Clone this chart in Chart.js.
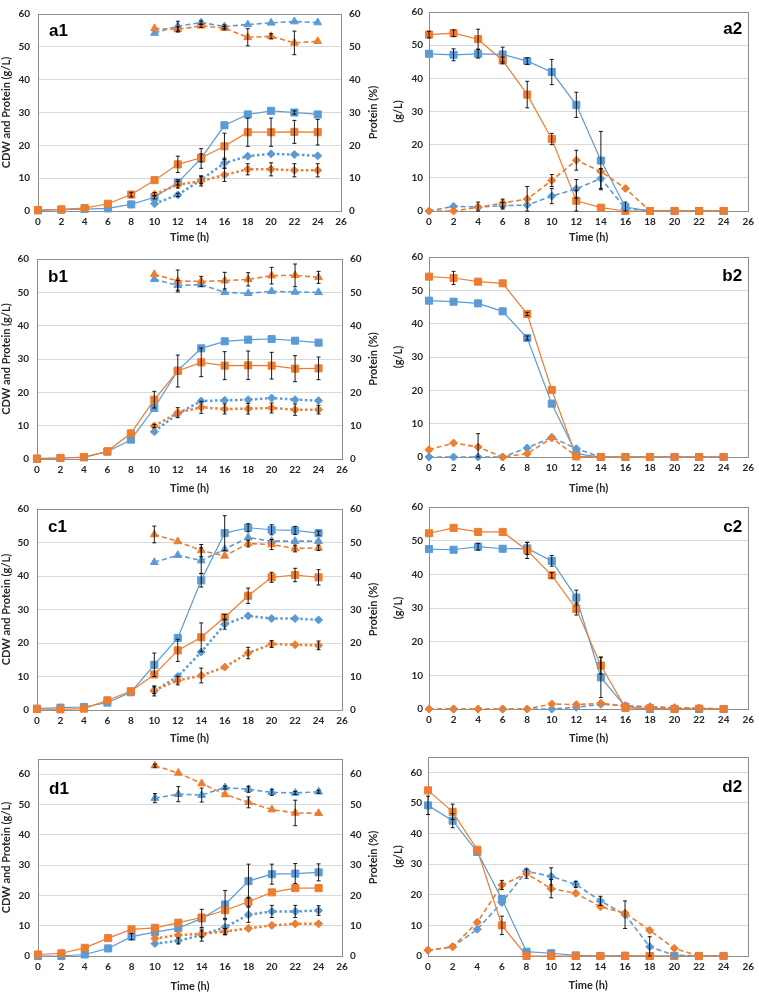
<!DOCTYPE html>
<html><head><meta charset="utf-8">
<script src="https://cdn.jsdelivr.net/npm/chart.js@4"></script>
<style>
html,body{margin:0;padding:0;background:#fff;}
body{width:759px;height:993px;position:relative;overflow:hidden;}
canvas{position:absolute;}
</style></head><body>
<canvas id="a1" width="380" height="245" style="left:0;top:0"></canvas>
<canvas id="a2" width="379" height="245" style="left:380px;top:0"></canvas>
<canvas id="b1" width="380" height="250" style="left:0;top:245px"></canvas>
<canvas id="b2" width="379" height="250" style="left:380px;top:245px"></canvas>
<canvas id="c1" width="380" height="250" style="left:0;top:495px"></canvas>
<canvas id="c2" width="379" height="250" style="left:380px;top:495px"></canvas>
<canvas id="d1" width="380" height="248" style="left:0;top:745px"></canvas>
<canvas id="d2" width="379" height="248" style="left:380px;top:745px"></canvas>
<script>
// ---------- axes / categories ----------
const times = [0,2,4,6,8,10,12,14,16,18,20,22,24];
const lateTimes = [10,12,14,16,18,20,22,24];
const xTickValues = [0,2,4,6,8,10,12,14,16,18,20,22,24,26];
const yTickValues = [0,10,20,30,40,50,60];

// ---------- a1 ----------
const a1_cdw_blue = [0.2,0.4,0.6,0.8,2.0,4.2,8.7,16.0,26.1,29.4,30.5,30.0,29.4];
const a1_cdw_orange = [0.3,0.5,0.9,2.2,5.0,9.4,14.2,16.2,19.7,24.0,24.0,24.1,24.0];
const a1_prot_blue = [2.2,4.9,9.5,14.6,16.7,17.4,17.2,16.8];
const a1_prot_orange = [5.1,8.0,9.1,11.0,12.7,12.7,12.4,12.4];
const a1_pct_blue = [54.2,56.3,57.4,56.2,56.8,57.3,57.7,57.4];
const a1_pct_orange = [55.6,55.3,56.4,55.7,52.9,53.2,51.2,51.7];
const a1_cdw_blue_err = [0,0,0,0,0,0.5,0.8,3,0,0,0,0.5,0];
const a1_cdw_orange_err = [0,0,0,0,0.7,0,2.5,1.2,4,4.3,4.3,3.5,3.9];
const a1_prot_blue_err = [0,0.5,1.2,1.5,0,0,0,0];
const a1_prot_orange_err = [0.5,1,1.5,2,1.7,2,2,2];
const a1_pct_blue_err = [0,1.5,0.5,0.5,0,0,0,0];
const a1_pct_orange_err = [0,0.8,0.5,0.5,2.6,0.8,3.6,0];

// ---------- a2 ----------
const a2_sq_blue = [47.4,47.1,47.4,47.2,45.2,41.9,32.0,15.2,1.2,0,0,0,0];
const a2_sq_orange = [53.2,53.6,51.8,45.4,35.1,21.7,3.1,1.0,0,0,0,0,0];
const a2_dm_blue = [0,1.4,1.2,1.6,1.8,4.5,6.7,9.8,0.8,0,0,0,0];
const a2_dm_orange = [0,0,1.1,2.4,3.6,9.2,15.3,11.9,6.8,0,0,0,0];
const a2_sq_blue_err = [0,1.8,1.3,2.2,1,3.8,3.8,8.8,1.5,0,0,0,0];
const a2_sq_orange_err = [1,1,3,1,4,1.7,3.1,0,0,0,0,0,0];
const a2_dm_blue_err = [0,0,1.5,1,0,2.3,2.8,3,0,0,0,0,0];
const a2_dm_orange_err = [0,0,0,1.2,3.8,1.8,3,0,0,0,0,0,0];

// ---------- b1 ----------
const b1_cdw_blue = [0.1,0.3,0.5,2.2,5.8,15.3,26.5,33.2,35.3,35.8,36.0,35.5,34.9];
const b1_cdw_orange = [0.1,0.3,0.6,2.3,7.7,17.8,26.4,29.0,28.0,28.1,28.0,27.1,27.2];
const b1_prot_blue = [8.2,13.6,17.4,17.6,17.8,18.3,17.8,17.5];
const b1_prot_orange = [9.9,13.9,15.5,15.0,15.1,15.3,14.8,14.8];
const b1_pct_blue = [53.9,52.1,52.3,50.0,49.7,50.3,50.1,50.0];
const b1_pct_orange = [55.4,53.4,53.3,53.5,53.9,55.0,55.1,54.5];
const b1_cdw_blue_err = [0,0,0,0,0,0,0,0,0,0,0,0,0];
const b1_cdw_orange_err = [0,0,0,0,0,2.5,4.8,4.3,4.2,4.3,4,3.9,3.4];
const b1_prot_blue_err = [0,0,0,0,0,0,0,0];
const b1_prot_orange_err = [0.5,1.5,1.8,1.5,1.6,1.5,1.7,1.3];
const b1_pct_blue_err = [0,1.5,0,0,0,0,0,0];
const b1_pct_orange_err = [0,3.3,1.5,2.5,2,2.5,3.4,1.8];

// ---------- b2 ----------
const b2_sq_blue = [46.9,46.6,46.1,43.7,35.7,16.0,1.0,0,0,0,0,0,0];
const b2_sq_orange = [54.1,53.7,52.6,52.1,42.9,20.1,0.2,0,0,0,0,0,0];
const b2_dm_blue = [0,0,0,0,2.7,5.9,2.5,0,0,0,0,0,0];
const b2_dm_orange = [2.2,4.2,3.0,0,1.0,5.7,0.2,0,0,0,0,0,0];
const b2_sq_blue_err = [0,0,0,0,0.6,0,0,0,0,0,0,0,0];
const b2_sq_orange_err = [0,2,0,0,0.5,0,0,0,0,0,0,0,0];
const b2_dm_blue_err = [0,0,0,0,0,0,0,0,0,0,0,0,0];
const b2_dm_orange_err = [0,0,4,0,0,0,0,0,0,0,0,0,0];

// ---------- c1 ----------
const c1_cdw_blue = [0.4,0.7,0.9,2.2,5.3,13.5,21.5,38.7,52.8,54.4,53.8,53.6,52.8];
const c1_cdw_orange = [0.3,0.2,0.4,2.9,5.6,10.6,17.8,21.7,27.7,34.1,39.6,40.3,39.6];
const c1_prot_blue = [5.7,10.0,17.3,25.6,28.1,27.3,27.3,26.9];
const c1_prot_orange = [5.9,8.8,10.3,12.8,17.0,19.7,19.5,19.3];
const c1_pct_blue = [44.1,46.2,44.6,48.0,51.5,50.4,50.4,50.4];
const c1_pct_orange = [52.4,50.3,47.6,46.0,49.7,49.4,48.2,48.4];
const c1_cdw_blue_err = [0,0,0,0,0,3.5,0,2,5.2,1.2,1.5,1.2,0.6];
const c1_cdw_orange_err = [0,0,0,0,0,0,3.3,4.3,0.8,2.3,1.5,2,2.3];
const c1_prot_blue_err = [1.5,0,0,1.5,0,0,0,0];
const c1_prot_orange_err = [1,1.3,2.2,0,1.7,1,0,1.3];
const c1_pct_blue_err = [0,0,3.8,0,0,0,0,0];
const c1_pct_orange_err = [2.5,0,1.8,0,1,1.5,1,0.8];

// ---------- c2 ----------
const c2_sq_blue = [47.5,47.3,48.2,47.6,47.7,44.0,33.1,9.4,0.7,0,0,0,0];
const c2_sq_orange = [52.2,53.8,52.6,52.6,47.1,39.7,29.7,12.9,0.3,0.2,0,0.1,0];
const c2_dm_blue = [0,0,0,0,0,0,0.5,1.4,1.0,0.5,0.3,0,0];
const c2_dm_orange = [0,0,0,0,0,1.5,1.3,1.7,0.9,0.7,0.4,0.3,0];
const c2_sq_blue_err = [0,0,1,0,1.8,1.6,2.2,6,0,0,0,0,0];
const c2_sq_orange_err = [0,0,0,0,2.4,0.8,1.8,2.5,0,0,0,0,0];
const c2_dm_blue_err = [0,0,0,0,0,0,0,0,0,0,0,0,0];
const c2_dm_orange_err = [0,0,0,0,0,0,0,0,0,0,0,0,0];

// ---------- d1 ----------
const d1_cdw_blue = [0,0,0.5,2.5,6.4,7.9,9.2,12.4,17.0,24.7,27.0,27.2,27.6];
const d1_cdw_orange = [0.5,0.9,2.7,5.9,8.8,9.3,11.0,12.7,15.1,17.9,21.0,22.4,22.4];
const d1_prot_blue = [4.1,5.0,6.9,9.5,13.6,14.7,14.7,15.0];
const d1_prot_orange = [5.8,6.9,7.3,8.1,9.1,10.1,10.6,10.6];
const d1_pct_blue = [52.1,53.4,53.1,55.6,55.0,54.0,53.8,54.2];
const d1_pct_orange = [62.8,60.4,56.9,53.3,50.7,48.3,47.2,47.1];
const d1_cdw_blue_err = [0,0,0,0,1,0,0,3,4.6,5.6,3.3,3.3,2.8];
const d1_cdw_orange_err = [0,0,0,0,0,0,0,0,0,1.5,0,0,0];
const d1_prot_blue_err = [0,1,2,2.5,2.5,2,2,1.6];
const d1_prot_orange_err = [0,0,1,1,0,0,0,0];
const d1_pct_blue_err = [1.5,2.5,2.3,0.5,1,1,0.5,0.5];
const d1_pct_orange_err = [0.5,0,0,0,1.8,0,4.2,0];

// ---------- d2 ----------
const d2_sq_blue = [49.2,44.2,34.0,18.6,1.4,0.9,0.2,0,0.1,0,0,0,0];
const d2_sq_orange = [54.1,47.1,34.7,10.0,0,0,0,0,0,0,0,0,0];
const d2_dm_blue = [1.9,3.0,8.7,17.5,27.7,26.0,23.4,18.0,13.5,3.0,0.3,0,0];
const d2_dm_orange = [1.9,3.0,11.0,23.2,26.9,22.0,20.5,16.1,14.0,8.4,2.5,0,0];
const d2_sq_blue_err = [3,2.3,0,0,0,0,0,0,0,0,0,0,0];
const d2_sq_orange_err = [0,2.5,0,3,0,0,0,0,0,0,0,0,0];
const d2_dm_blue_err = [0,0,0,0,0,2.8,1,1.5,4.5,3.3,0,0,0];
const d2_dm_orange_err = [0,0,0,1.5,1.5,3,0,0,0,0,0,0,0];

// ---------- styling ----------
const BLUE = '#5B9BD5', ORANGE = '#ED7D31';
const TXT = '#262626';
Chart.defaults.font.family = 'Lato, "Liberation Sans", sans-serif';
Chart.defaults.color = TXT;

const STYLE = {
  cdw:  {ps:'rect',     r:5,   bw:1.2, dash:[]},
  prot: {ps:'rectRot',  r:4,   bw:2.5, dash:[2.5,2.5]},
  pct:  {ps:'triangle', r:4.5, bw:1.6, dash:[5,3]},
  side: {ps:'rectRot',  r:4,   bw:1.6, dash:[5,3]}
};

const decor = {
  id: 'decor',
  beforeDatasetsDraw(chart) {
    const ctx = chart.ctx, ca = chart.chartArea;
    ctx.save();
    ctx.strokeStyle = '#8c8c8c'; ctx.lineWidth = 1;
    ctx.strokeRect(Math.round(ca.left)+0.5, Math.round(ca.top)+0.5,
      Math.round(ca.right)-Math.round(ca.left), Math.round(ca.bottom)-Math.round(ca.top));
    ctx.restore();
  },
  afterDatasetsDraw(chart) {
    const ctx = chart.ctx;
    const xs = chart.scales.x;
    chart.data.datasets.forEach(ds => {
      if (!ds.errors) return;
      const ys = chart.scales[ds.yAxisID];
      ctx.save(); ctx.strokeStyle = '#000'; ctx.lineWidth = 0.9;
      ds.data.forEach((pt, k) => {
        const e = ds.errors[k]; if (!e) return;
        const px = xs.getPixelForValue(pt.x);
        const yt = ys.getPixelForValue(pt.y + e);
        const yb = ys.getPixelForValue(Math.max(0, pt.y - e));
        ctx.beginPath();
        ctx.moveTo(px, yt); ctx.lineTo(px, yb);
        ctx.moveTo(px-2, yt); ctx.lineTo(px+2, yt);
        ctx.moveTo(px-2, yb); ctx.lineTo(px+2, yb);
        ctx.stroke();
      });
      ctx.restore();
    });
  },
  afterDraw(chart) {
    const o = chart.options.plugins.decor, ctx = chart.ctx, ca = chart.chartArea;
    ctx.save();
    ctx.fillStyle = '#000';
    ctx.font = 'bold 17px "Liberation Sans", Arial, sans-serif';
    ctx.textBaseline = 'alphabetic';
    if (o.labelSide === 'left') { ctx.textAlign = 'left'; ctx.fillText(o.label, ca.left + 11, ca.top + o.labelDy); }
    else { ctx.textAlign = 'right'; ctx.fillText(o.label, ca.right - 6, ca.top + o.labelDy); }
    if (o.rightTitle) {
      ctx.translate(chart.width - 7, (ca.top + ca.bottom) / 2);
      ctx.rotate(-Math.PI/2);
      ctx.textAlign = 'center'; ctx.textBaseline = 'middle';
      ctx.fillStyle = TXT;
      ctx.font = 'bold 11px Lato, sans-serif';
      ctx.fillText(o.rightTitle, 0, 0);
    }
    ctx.restore();
  }
};

function mkSeries(t, v, e, color, kind) { return {t, v, e, color, kind}; }

function buildChart(id, p) {
  const datasets = p.series.map((s, i) => {
    const st = STYLE[s.kind];
    return {
      data: s.t.map((t, k) => ({x: t, y: s.v[k]})),
      errors: s.e,
      yAxisID: s.kind === 'pct' ? 'y1' : 'y',
      borderColor: s.color, backgroundColor: s.color,
      pointBackgroundColor: s.color, pointBorderColor: s.color,
      pointStyle: st.ps, pointRadius: st.r, pointBorderWidth: 1,
      borderWidth: st.bw, borderDash: st.dash,
      tension: 0, fill: false, clip: false, order: 20 - i
    };
  });
  const tickFont = {size: 10, weight: 'bold'};
  const titleFont = {size: 11, weight: 'bold'};
  const setY = s => { s.ticks = yTickValues.map(v => ({value: v})); };
  const scales = {
    x: {
      type: 'linear', min: 0, max: 26,
      afterBuildTicks: s => { s.ticks = xTickValues.map(v => ({value: v})); },
      afterFit: s => { s.height = p.xH; },
      grid: {display: false, drawTicks: false}, border: {display: false},
      ticks: {padding: 5, font: tickFont, color: TXT, maxRotation: 0, autoSkip: false},
      title: {display: true, text: 'Time (h)', font: titleFont, color: TXT, padding: {top: 0, bottom: p.xTitlePad}}
    },
    y: {
      type: 'linear', min: 0, max: p.ymax,
      afterBuildTicks: setY,
      afterFit: s => { s.width = p.leftW; },
      grid: {color: '#d9d9d9', drawTicks: false, lineWidth: 1}, border: {display: false},
      ticks: {padding: p.yPad, font: tickFont, color: TXT},
      title: {display: true, text: p.ytitle, font: titleFont, color: TXT, padding: {top: p.yTitlePad, bottom: 0}}
    }
  };
  if (p.rightAxis) {
    scales.y1 = {
      type: 'linear', position: 'right', min: 0, max: p.ymax,
      afterBuildTicks: setY,
      afterFit: s => { s.width = p.rightW; },
      grid: {drawOnChartArea: false, drawTicks: false}, border: {display: false},
      ticks: {padding: 8, font: tickFont, color: TXT}
    };
  }
  new Chart(document.getElementById(id), {
    type: 'line',
    data: {datasets},
    options: {
      responsive: false, animation: false, devicePixelRatio: 1,
      layout: {padding: {top: p.padTop, left: 0, right: p.rightAxis ? 0 : p.rightW, bottom: 0}},
      plugins: {legend: {display: false}, tooltip: {enabled: false},
        decor: {label: id, labelSide: p.rightAxis ? 'left' : 'right', labelDy: p.labelDy,
                rightTitle: p.rightAxis ? 'Protein (%)' : null}},
      scales
    },
    plugins: [decor]
  });
}

function leftPanel(id, cb, co, pb, po, qb, qo, eb, eo, epb, epo, eqb, eqo, geo) {
  buildChart(id, Object.assign({
    rightAxis: true, ytitle: 'CDW and Protein (g/L)', yPad: 8, yTitlePad: 0,
    series: [
      mkSeries(times, cb, eb, BLUE, 'cdw'),
      mkSeries(times, co, eo, ORANGE, 'cdw'),
      mkSeries(lateTimes, pb, epb, BLUE, 'prot'),
      mkSeries(lateTimes, po, epo, ORANGE, 'prot'),
      mkSeries(lateTimes, qb, eqb, BLUE, 'pct'),
      mkSeries(lateTimes, qo, eqo, ORANGE, 'pct')
    ]
  }, geo));
}
function rightPanel(id, sb, so, db, dor, esb, eso, edb, edo, geo) {
  buildChart(id, Object.assign({
    rightAxis: false, ytitle: '(g/L)', yPad: 6, yTitlePad: 12,
    series: [
      mkSeries(times, sb, esb, BLUE, 'cdw'),
      mkSeries(times, so, eso, ORANGE, 'cdw'),
      mkSeries(times, db, edb, BLUE, 'side'),
      mkSeries(times, dor, edo, ORANGE, 'side')
    ]
  }, geo));
}

leftPanel('a1', a1_cdw_blue, a1_cdw_orange, a1_prot_blue, a1_prot_orange, a1_pct_blue, a1_pct_orange,
  a1_cdw_blue_err, a1_cdw_orange_err, a1_prot_blue_err, a1_prot_orange_err, a1_pct_blue_err, a1_pct_orange_err,
  {ymax: 60, padTop: 6, leftW: 38, rightW: 39, xH: 34, xTitlePad: 1, labelDy: 22});
rightPanel('a2', a2_sq_blue, a2_sq_orange, a2_dm_blue, a2_dm_orange,
  a2_sq_blue_err, a2_sq_orange_err, a2_dm_blue_err, a2_dm_orange_err,
  {ymax: 60, padTop: 6, leftW: 49, rightW: 6, xH: 34, xTitlePad: 1, labelDy: 22});
leftPanel('b1', b1_cdw_blue, b1_cdw_orange, b1_prot_blue, b1_prot_orange, b1_pct_blue, b1_pct_orange,
  b1_cdw_blue_err, b1_cdw_orange_err, b1_prot_blue_err, b1_prot_orange_err, b1_pct_blue_err, b1_pct_orange_err,
  {ymax: 60, padTop: 12, leftW: 37, rightW: 38, xH: 36, xTitlePad: 0, labelDy: 23});
rightPanel('b2', b2_sq_blue, b2_sq_orange, b2_dm_blue, b2_dm_orange,
  b2_sq_blue_err, b2_sq_orange_err, b2_dm_blue_err, b2_dm_orange_err,
  {ymax: 60, padTop: 11, leftW: 49, rightW: 7, xH: 38, xTitlePad: 0, labelDy: 24});
leftPanel('c1', c1_cdw_blue, c1_cdw_orange, c1_prot_blue, c1_prot_orange, c1_pct_blue, c1_pct_orange,
  c1_cdw_blue_err, c1_cdw_orange_err, c1_prot_blue_err, c1_prot_orange_err, c1_pct_blue_err, c1_pct_orange_err,
  {ymax: 60, padTop: 12, leftW: 37, rightW: 38, xH: 35, xTitlePad: 0, labelDy: 23});
rightPanel('c2', c2_sq_blue, c2_sq_orange, c2_dm_blue, c2_dm_orange,
  c2_sq_blue_err, c2_sq_orange_err, c2_dm_blue_err, c2_dm_orange_err,
  {ymax: 60, padTop: 10, leftW: 49, rightW: 6, xH: 36, xTitlePad: 0, labelDy: 25});
leftPanel('d1', d1_cdw_blue, d1_cdw_orange, d1_prot_blue, d1_prot_orange, d1_pct_blue, d1_pct_orange,
  d1_cdw_blue_err, d1_cdw_orange_err, d1_prot_blue_err, d1_prot_orange_err, d1_pct_blue_err, d1_pct_orange_err,
  {ymax: 65, padTop: 9, leftW: 38, rightW: 38, xH: 37, xTitlePad: 0, labelDy: 35});
rightPanel('d2', d2_sq_blue, d2_sq_orange, d2_dm_blue, d2_dm_orange,
  d2_sq_blue_err, d2_sq_orange_err, d2_dm_blue_err, d2_dm_orange_err,
  {ymax: 65, padTop: 9, leftW: 48, rightW: 7, xH: 37, xTitlePad: 1, labelDy: 35});
</script>
</body></html>
